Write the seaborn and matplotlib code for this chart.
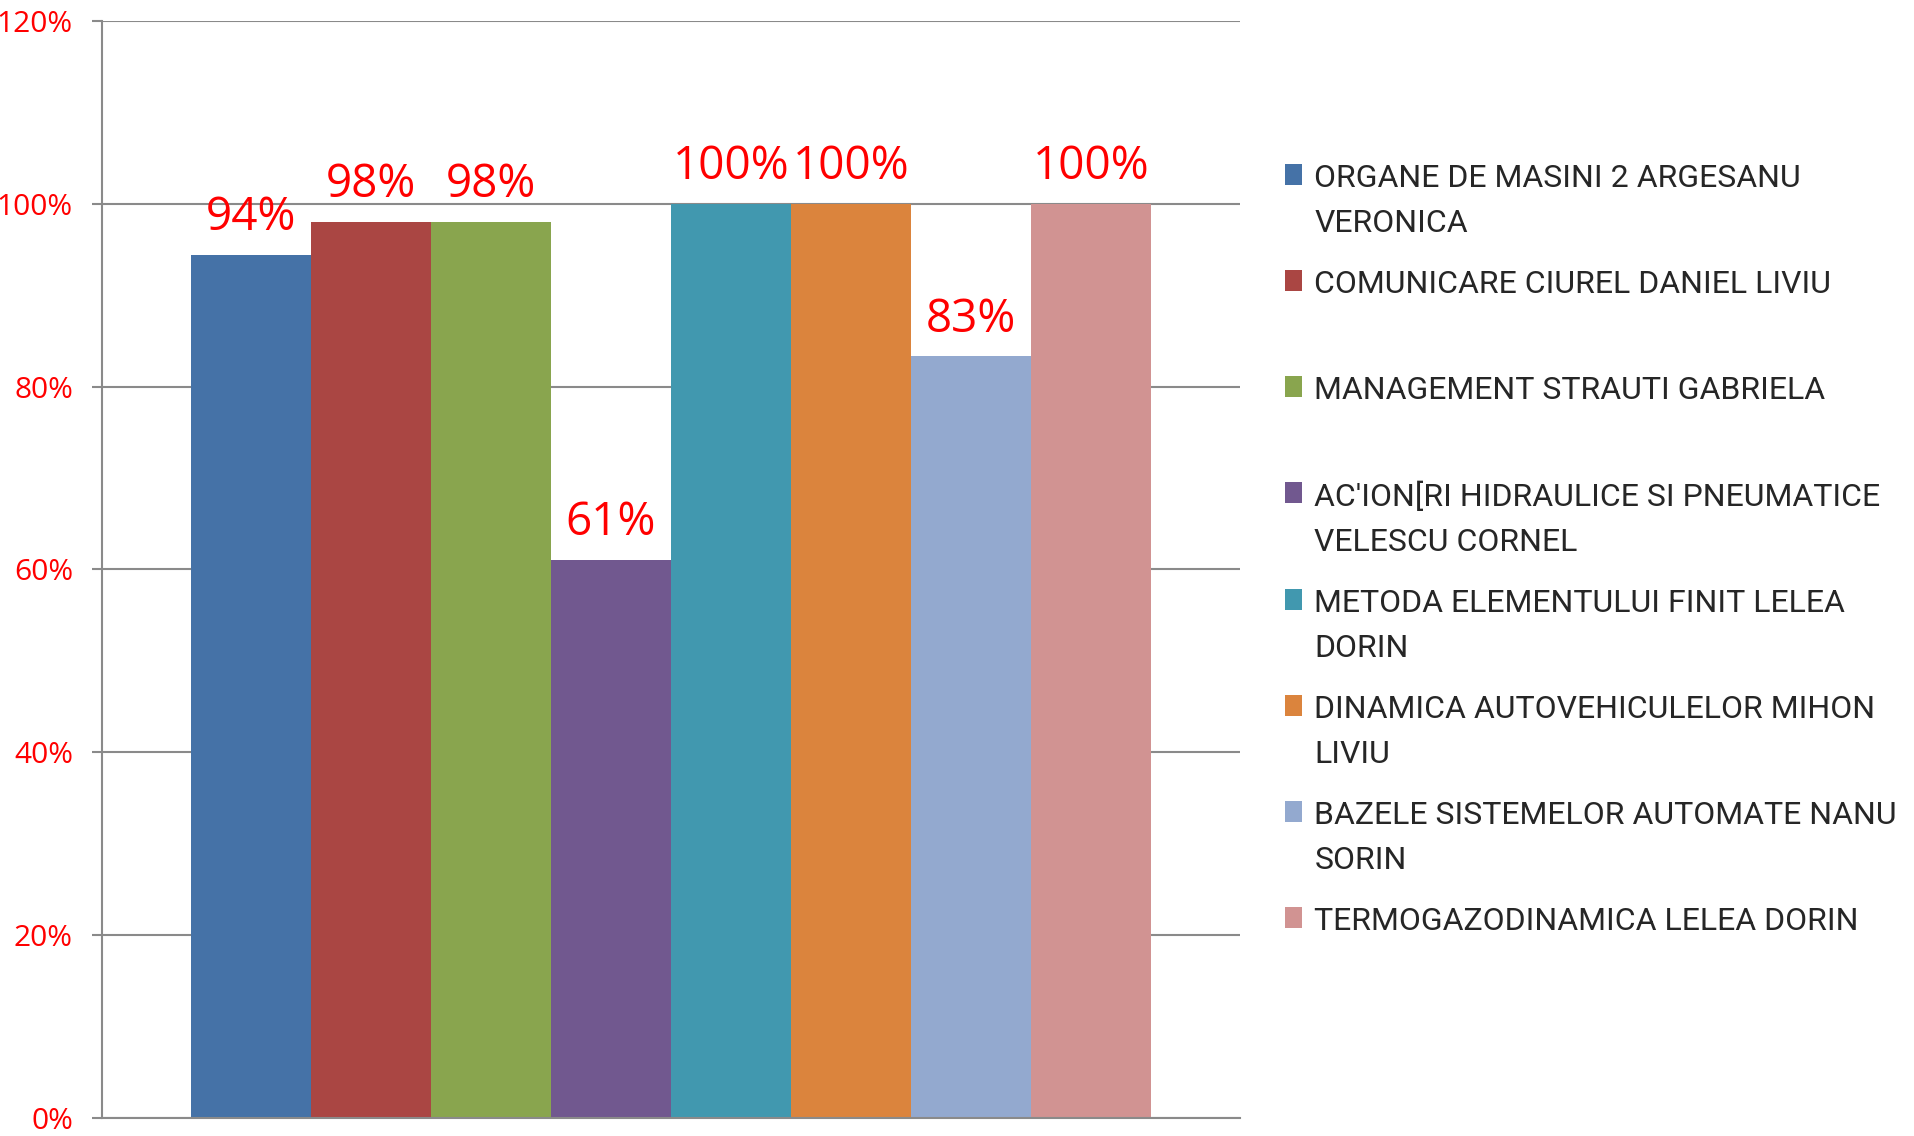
import matplotlib
matplotlib.use("Agg")
import numpy as np
import pandas as pd
import seaborn as sns
import matplotlib.pyplot as plt
from matplotlib import font_manager
from matplotlib.ticker import PercentFormatter

## DATA
subjects = ["ORGANE DE MASINI 2 ARGESANU VERONICA",
            "COMUNICARE CIUREL DANIEL LIVIU",
            "MANAGEMENT STRAUTI GABRIELA",
            "AC'ION[RI HIDRAULICE SI PNEUMATICE VELESCU CORNEL",
            "METODA ELEMENTULUI FINIT LELEA DORIN",
            "DINAMICA AUTOVEHICULELOR MIHON LIVIU",
            "BAZELE SISTEMELOR AUTOMATE NANU SORIN",
            "TERMOGAZODINAMICA LELEA DORIN"]
# legend text wrapped like the original (every entry takes two lines)
legend_labels = ["ORGANE DE MASINI 2 ARGESANU\nVERONICA",
                 "COMUNICARE CIUREL DANIEL LIVIU\n",
                 "MANAGEMENT STRAUTI GABRIELA\n",
                 "AC'ION[RI HIDRAULICE SI PNEUMATICE\nVELESCU CORNEL",
                 "METODA ELEMENTULUI FINIT LELEA\nDORIN",
                 "DINAMICA AUTOVEHICULELOR MIHON\nLIVIU",
                 "BAZELE SISTEMELOR AUTOMATE NANU\nSORIN",
                 "TERMOGAZODINAMICA LELEA DORIN\n"]
scores = [0.944, 0.98, 0.98, 0.61, 1.0, 1.0, 0.833, 1.0]
colours = ["#4572A7", "#AA4643", "#89A54E", "#71588F",
           "#4198AF", "#DB843D", "#93A9CF", "#D19392"]

sns.set_style("white")


def pick(*names):
    avail = {f.name for f in font_manager.fontManager.ttflist}
    for n in names:
        if n in avail:
            return n
    return "DejaVu Sans"


num_font = pick("Open Sans", "Lato", "DejaVu Sans")
leg_font = pick("Liberation Sans Narrow", "Roboto", "DejaVu Sans")
plt.rcParams['font.family'] = [num_font, 'DejaVu Sans']

df = pd.DataFrame({"group": [""] * len(subjects), "subject": subjects, "score": scores})

fig = plt.figure(figsize=(19.15, 11.36), dpi=100)
ax = fig.add_axes([0.0533, 0.0159, 0.5942, 0.9657])
sns.barplot(data=df, x="group", y="score", hue="subject", hue_order=subjects,
            palette=colours, width=0.8436, saturation=1, errorbar=None,
            linewidth=0, ax=ax, legend=False)

grey = "#8a8a8a"
ax.set_xlim(-0.5, 0.5)
ax.set_ylim(0, 1.2)
ax.set_yticks(np.arange(0, 1.21, 0.2))
ax.yaxis.set_major_formatter(PercentFormatter(1.0, decimals=0))
ax.yaxis.grid(True, color=grey, lw=1.5)
ax.set_axisbelow(True)
for s in ["top", "right"]:
    ax.spines[s].set_visible(False)
for s in ["left", "bottom"]:
    ax.spines[s].set_color(grey)
    ax.spines[s].set_linewidth(1.5)
ax.tick_params(axis="y", left=True, length=7, width=1.5, color=grey,
               labelcolor="red", labelsize=21.5, pad=14)
ax.tick_params(axis="x", bottom=False, labelbottom=False)
ax.set_xlabel("")
ax.set_ylabel("")

# data labels
for c, v in zip(ax.containers, scores):
    ax.bar_label(c, labels=[f"{v:.0%}"], padding=10, color="red", fontsize=33,
                 fontfamily=num_font)

leg = ax.legend(ax.containers, legend_labels, loc="upper left",
                bbox_to_anchor=(0.671, 0.856), bbox_transform=fig.transFigure,
                frameon=False, prop={"family": leg_font, "size": 23},
                handlelength=0.52, handleheight=0.64, handletextpad=0.4,
                labelspacing=1.0, borderpad=0, borderaxespad=0)
for t in leg.get_texts():
    t.set_linespacing(1.7)

# put the colour square next to the first line of each entry
fig.canvas.draw()
r = fig.canvas.get_renderer()
for h, t in zip(leg.legend_handles, leg.get_texts()):
    dy = t.get_window_extent(r).y1 - h.get_window_extent(r).y1
    h.set_y(h.get_y() + dy * 72 / fig.dpi)

fig.savefig("out.png", dpi=100)
